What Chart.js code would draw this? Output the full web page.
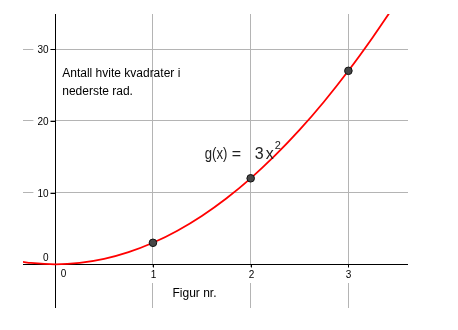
<!DOCTYPE html>
<html><head><meta charset="utf-8">
<script src="https://cdn.jsdelivr.net/npm/chart.js@4/dist/chart.umd.min.js"></script>
<style>html,body{margin:0;padding:0;background:#fff;}#wrap{width:458px;height:330px;}</style>
</head><body><div id="wrap"><canvas id="c" width="458" height="330"></canvas></div>
<script>
// g(x) = 3x^2
const curveX = [-0.33, -0.25, 0, 0.25, 0.5, 0.75, 1, 1.25, 1.5, 1.75, 2, 2.25, 2.5, 2.75, 3, 3.25, 3.42];
const curveY = [0.33, 0.19, 0, 0.19, 0.75, 1.69, 3, 4.69, 6.75, 9.19, 12, 15.19, 18.75, 22.69, 27, 31.69, 35.09];
const pointX = [1, 2, 3];
const pointY = [3, 12, 27];
const xTickValues = [0, 1, 2, 3];
const xTickLabels = ['0', '1', '2', '3'];
const yTickValues = [0, 10, 20, 30];
const yTickLabels = ['0', '10', '20', '30'];
const noteLines = ['Antall hvite kvadrater i', 'nederste rad.'];
const xAxisTitle = 'Figur nr.';
const funcParts = ['g(x)', '=', '3', 'x', '2'];

const SANS = '"Liberation Sans", Arial, sans-serif';

const axesPlugin = {
  id: 'axesPlugin',
  beforeDatasetsDraw(chart) {
    const ctx = chart.ctx, xs = chart.scales.x, ys = chart.scales.y, a = chart.chartArea;
    const x0 = Math.round(xs.getPixelForValue(0)) + 0.5;
    const y0 = Math.round(ys.getPixelForValue(0)) + 0.5;
    ctx.save();
    ctx.font = '10px ' + SANS;
    ctx.textBaseline = 'middle';
    xTickValues.forEach((v, i) => {
      const px = Math.round(xs.getPixelForValue(v)) + 0.5;
      const lbl = xTickLabels[i];
      const w = ctx.measureText(lbl).width;
      if (v === 0) {
        ctx.fillStyle = '#000'; ctx.textAlign = 'center';
        ctx.fillText(lbl, px + 8, y0 + 10);
        return;
      }
      ctx.fillStyle = '#fff';
      ctx.fillRect(px - w / 2 - 3, y0 + 2.5, w + 6, 16);
      ctx.strokeStyle = '#000'; ctx.lineWidth = 1;
      ctx.beginPath(); ctx.moveTo(px, y0); ctx.lineTo(px, y0 + 3); ctx.stroke();
      ctx.fillStyle = '#000'; ctx.textAlign = 'center';
      ctx.fillText(lbl, px, y0 + 10.5);
    });
    yTickValues.forEach((v, i) => {
      const py = Math.round(ys.getPixelForValue(v)) + 0.5;
      const lbl = yTickLabels[i];
      const w = ctx.measureText(lbl).width;
      ctx.textAlign = 'right';
      if (v === 0) {
        ctx.fillStyle = '#000';
        ctx.fillText(lbl, x0 - 7, y0 - 6);
        return;
      }
      ctx.fillStyle = '#fff';
      ctx.fillRect(x0 - 7 - w - 4, py - 6, w + 6, 12);
      ctx.strokeStyle = '#000'; ctx.lineWidth = 1;
      ctx.beginPath(); ctx.moveTo(x0 - 5, py); ctx.lineTo(x0, py); ctx.stroke();
      ctx.fillStyle = '#000';
      ctx.fillText(lbl, x0 - 7, py + 0.5);
    });
    ctx.strokeStyle = '#000'; ctx.lineWidth = 1;
    ctx.beginPath();
    ctx.moveTo(x0, a.top); ctx.lineTo(x0, a.bottom);
    ctx.moveTo(a.left, y0); ctx.lineTo(a.right, y0);
    ctx.stroke();
    ctx.restore();
  },
  afterDatasetsDraw(chart) {
    const ctx = chart.ctx, xs = chart.scales.x, ys = chart.scales.y;
    const x0 = xs.getPixelForValue(0);
    ctx.save();
    ctx.fillStyle = '#000';
    ctx.textAlign = 'left';
    ctx.textBaseline = 'alphabetic';
    ctx.font = '12px ' + SANS;
    ctx.fillText(noteLines[0], x0 + 7, ys.getPixelForValue(26.1));
    ctx.fillText(noteLines[1], x0 + 7, ys.getPixelForValue(23.6));
    ctx.fillText(xAxisTitle, xs.getPixelForValue(1.2), ys.getPixelForValue(-4.55));
    const bx = xs.getPixelForValue(1.53), by = ys.getPixelForValue(14.75);
    ctx.fillStyle = '#222';
    ctx.font = '16px ' + SANS;
    ctx.save();
    ctx.translate(bx, by);
    ctx.scale(0.82, 1.05);
    ctx.fillText(funcParts[0], 0, 0);
    ctx.restore();
    ctx.fillText(funcParts[1], bx + 27, by);
    ctx.fillText(funcParts[2], bx + 50, by);
    ctx.fillText(funcParts[3], bx + 61, by);
    ctx.font = '11px ' + SANS;
    ctx.fillText(funcParts[4], bx + 70, by - 10);
    ctx.restore();
  }
};

new Chart(document.getElementById('c'), {
  type: 'scatter',
  data: {
    datasets: [
      {
        data: pointX.map((x, i) => ({ x: x, y: pointY[i] })),
        pointRadius: 3.8, pointHoverRadius: 3.8,
        backgroundColor: '#464646', borderColor: '#111', borderWidth: 1,
        order: 0
      },
      {
        type: 'line',
        data: curveX.map((x, i) => ({ x: x, y: curveY[i] })),
        showLine: true, pointRadius: 0, borderColor: '#ff0000', borderWidth: 1.8,
        cubicInterpolationMode: 'monotone', fill: false,
        order: 1
      }
    ]
  },
  options: {
    responsive: false, animation: false, devicePixelRatio: 1,
    layout: { padding: { left: 23, right: 50, top: 14, bottom: 22 } },
    plugins: { legend: { display: false }, tooltip: { enabled: false } },
    scales: {
      x: {
        type: 'linear', min: -0.33, max: 3.61,
        ticks: { display: false, stepSize: 1, includeBounds: false },
        grid: { drawTicks: false, color: (c) => c.tick && c.tick.value === 0 ? 'rgba(0,0,0,0)' : '#b4b4b4', lineWidth: 1 },
        border: { display: false }
      },
      y: {
        type: 'linear', min: -6.1, max: 34.93,
        ticks: { display: false, stepSize: 10, includeBounds: false },
        grid: { drawTicks: false, color: (c) => c.tick && c.tick.value === 0 ? 'rgba(0,0,0,0)' : '#b4b4b4', lineWidth: 1 },
        border: { display: false }
      }
    }
  },
  plugins: [axesPlugin]
});
</script></body></html>
